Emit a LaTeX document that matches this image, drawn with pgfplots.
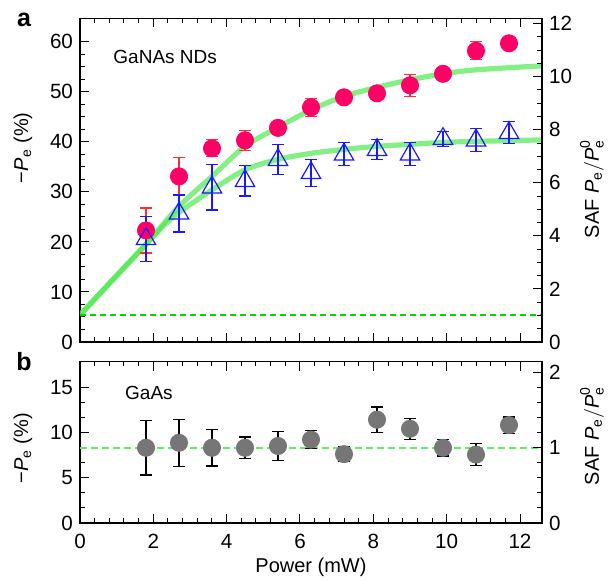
\documentclass[border=0pt]{standalone}
\usepackage{fontspec}
\setmainfont{Liberation Sans}
\usepackage{amsmath}
\usepackage{pgfplots}
\usepackage{pgfplotstable}
\pgfplotsset{compat=1.18}

\definecolor{pinkc}{RGB}{255,0,102}
\definecolor{errred}{RGB}{255,45,45}
\definecolor{blu}{RGB}{25,25,255}
\definecolor{grayc}{RGB}{118,118,118}
\definecolor{fitgreen}{RGB}{80,232,80}
\definecolor{dashgreen}{RGB}{30,230,30}

% GaNAs NDs, circles: power, -Pe, error
\pgfplotstableread{
x    y     e
1.8  22.3  4.5
2.7  33.1  3.8
3.6  38.7  1.7
4.5  40.3  2.0
5.4  42.8  1.0
6.3  46.9  1.8
7.2  48.9  1.0
8.1  49.7  1.0
9.0  51.3  2.2
9.9  53.6  1.0
10.8 58.2  1.8
11.7 59.7  1.0
}\ndsred
% GaNAs NDs, triangles
\pgfplotstableread{
x    y     e
1.8  20.6  4.5
2.7  25.7  3.7
3.6  30.9  4.5
4.5  32.2  3.0
5.4  36.4  3.0
6.3  33.8  2.7
7.2  37.5  2.3
8.1  38.4  2.0
9.0  37.5  2.3
9.9  40.6  1.5
10.8 40.3  2.3
11.7 41.8  2.2
}\ndsblue
% GaAs
\pgfplotstableread{
x    y     e
1.8  8.3   3.0
2.7  8.85  2.6
3.6  8.3   2.0
4.5  8.3   1.2
5.4  8.5   1.6
6.3  9.2   1.0
7.2  7.6   0.8
8.1  11.4  1.4
9.0  10.4  1.15
9.9  8.3   0.9
10.8 7.55  1.2
11.7 10.8  0.9
}\gaas

\pgfplotsset{
  base/.style={
    scale only axis, width=231pt,
    xmin=0, xmax=12.6,
    xtick={0,2,...,12}, minor x tick num=4,
    tick align=inside,
    major tick length=4.5pt, minor tick length=2.3pt,
    every tick/.style={black, line width=0.5pt},
    axis line style={line width=0.6pt},
    tick label style={font=\fontsize{10.3}{12}\selectfont},
    label style={font=\fontsize{11.8}{14}\selectfont},
    /pgf/number format/assume math mode=true,
  },
  errb/.style={
    error bars/.cd, y dir=both, y explicit,
    error bar style={line width=0.6pt, color=#1},
    error mark options={rotate=90, mark size=3pt, line width=0.6pt, color=#1},
  },
}

\begin{document}
\begin{tikzpicture}
\useasboundingbox (-40pt,-28pt) rectangle (265.5pt,261.5pt);

% ---- panel a ----
\begin{axis}[base, at={(0,90.5pt)}, anchor=south west, height=161.85pt,
  ymin=0, ymax=64.7, ytick={0,10,...,60}, minor y tick num=3,
  ytick pos=left, xtick pos=both, xticklabels={},
  ylabel={−\textit{P}\textsubscript{e} (\%)},
  every axis y label/.style={at={([xshift=-28.5pt]axis description cs:0,0.6)}, rotate=90, anchor=center},
]
\addplot[fitgreen, line width=2.6pt, opacity=0.7, smooth] coordinates {
  (0,5.4) (0.9,12.5) (1.82,19.7) (2.7,27.1) (3.6,33.1) (4.5,39.1) (5.4,42.9)
  (6.3,46.4) (7.2,49.1) (8.1,50.9) (9.0,52.4) (9.9,53.6) (10.8,54.4) (12.6,55.2)
};
\addplot[fitgreen, line width=2.6pt, opacity=0.7, smooth] coordinates {
  (0,5.4) (0.9,12.5) (1.82,19.7) (2.3,23.4) (2.7,25.9) (3.6,30.4) (4.5,34.4) (5.4,36.5)
  (6.3,37.7) (7.2,38.5) (8.1,39.1) (9.0,39.5) (9.9,39.9) (10.8,40.1) (12.6,40.4)
};
\addplot[color=green!85!black, line width=1pt, dash pattern=on 3pt off 2pt, opacity=1] coordinates {(0,5.3) (12.6,5.3)};
\addplot[only marks, color=pinkc, mark=*, mark size=4.3pt, mark options={fill=pinkc, draw=pinkc}]
  table[x=x, y=y] {\ndsred};
\addplot[draw=none, mark=none, errb=errred] table[x=x, y=y, y error=e] {\ndsred};
\addplot[only marks, color=blu, mark=triangle, mark size=5.6pt, mark options={draw=blu, line width=0.6pt}, errb=blu]
  table[x=x, y=y, y error=e] {\ndsblue};
\node[anchor=west, font=\fontsize{9.5}{11}\selectfont] at (axis cs:0.72,57) {GaNAs NDs};
\end{axis}

\begin{axis}[base, at={(0,90.5pt)}, anchor=south west, height=161.85pt,
  ymin=0, ymax=12.2, ytick={0,2,...,12}, minor y tick num=3,
  axis y line*=right, axis x line=none,
  ylabel={SAF $\textit{P}_{\text{e}}/\textit{P}^{\text{0}}_{\text{e}}$},
  every axis y label/.style={at={([xshift=25pt]axis description cs:1,0.473)}, rotate=90, anchor=center},
]
\end{axis}

% ---- panel b ----
\begin{axis}[base, at={(0,0)}, anchor=south west, height=80.65pt,
  ymin=0, ymax=17.8, ytick={0,5,10,15}, minor y tick num=2,
  ytick pos=left, xtick pos=both,
  xticklabel style={yshift=-2.2pt},
  xlabel={Power (mW)},
  every axis x label/.style={at={([yshift=-22pt]axis description cs:0.5,0)}, anchor=center},
  ylabel={−\textit{P}\textsubscript{e} (\%)},
  every axis y label/.style={at={([xshift=-28.5pt]axis description cs:0,0.463)}, rotate=90, anchor=center},
]
\addplot[draw=dashgreen!70!white, line width=1.1pt, dash pattern=on 3.5pt off 2pt] coordinates {(0,8.3) (12.6,8.3)};
\addplot[only marks, color=grayc, mark=*, mark size=4.3pt, mark options={fill=grayc, draw=grayc}]
  table[x=x, y=y] {\gaas};
\addplot[draw=none, mark=none, errb=black] table[x=x, y=y, y error=e] {\gaas};
\node[anchor=west, font=\fontsize{9.5}{11}\selectfont] at (axis cs:1.04,14.4) {GaAs};
\end{axis}

\begin{axis}[base, at={(0,0)}, anchor=south west, height=80.65pt,
  ymin=0, ymax=2.145, ytick={0,1,2}, minor y tick num=4,
  axis y line*=right, axis x line=none,
  ylabel={SAF $\textit{P}_{\text{e}}/\textit{P}^{\text{0}}_{\text{e}}$},
  every axis y label/.style={at={([xshift=25pt]axis description cs:1,0.54)}, rotate=90, anchor=center},
]
\end{axis}

\node[font=\bfseries\fontsize{12.5}{14}\selectfont] at (-28pt,251.5pt) {a};
\node[font=\bfseries\fontsize{12.5}{14}\selectfont] at (-28pt,80.75pt) {b};
\end{tikzpicture}
\end{document}
